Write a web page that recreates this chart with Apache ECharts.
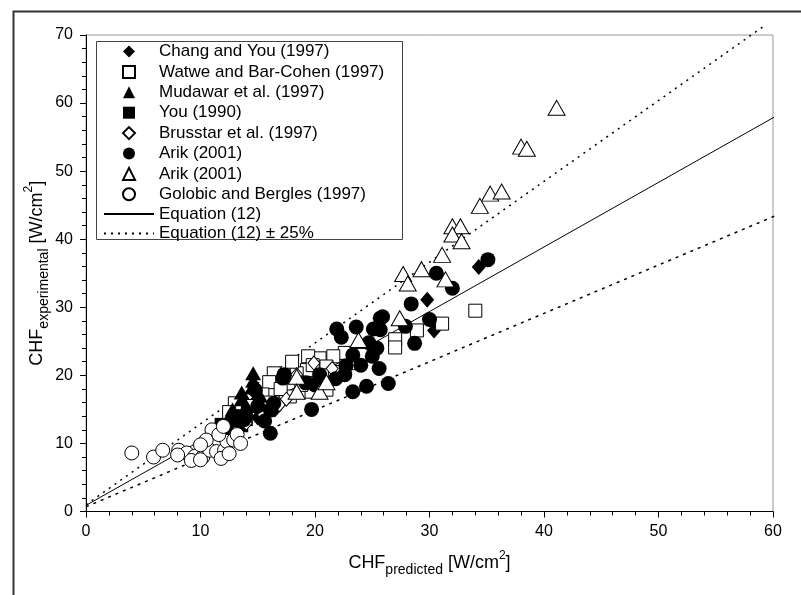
<!DOCTYPE html>
<html>
<head>
<meta charset="utf-8">
<script src="https://cdn.jsdelivr.net/npm/echarts@6/dist/echarts.min.js"></script>
<style>html,body{margin:0;padding:0;background:#fff;}#c{width:801px;height:595px;}</style>
</head>
<body>
<div id="c"></div>
<script>
// ---- data ----
var xTicks = [0, 10, 20, 30, 40, 50, 60];
var yTicks = [0, 10, 20, 30, 40, 50, 60, 70];

var changYou = [[34.3,35.9],[29.8,31.1],[30.4,26.6],[14.0,14.5],[15.0,13.8],[13.2,12.8],[16.5,15.0],[14.8,16.2],[12.5,12.0]];
var watwe = [[34.0,29.5],[31.1,27.6],[28.9,26.6],[27.0,25.3],[27.0,24.1],[22.6,23.3],[21.6,22.8],[20.4,22.5],[19.4,22.8],[21.0,21.3],[19.3,20.8],[18.4,20.3],[16.4,20.3],[21.6,19.8],[21.0,17.9],[19.7,17.6],[17.8,16.9],[13.0,15.9],[16.0,19.0],[15.4,17.2],[17.0,18.0],[18.8,18.6],[20.2,18.8],[22.3,20.5],[23.5,21.8],[24.0,23.0],[12.5,14.6],[14.2,15.5],[15.8,16.0],[19.8,21.5],[20.6,20.0],[18.0,22.0]];
var mudawar = [[14.6,20.3],[14.6,19.2],[13.6,17.5],[13.6,16.5],[14.5,18.2],[12.8,15.0],[13.2,14.0],[15.2,17.0],[14.0,15.5],[12.2,13.0]];
var you1990 = [[12.2,12.5],[12.8,13.2],[13.4,14.0],[12.0,11.8],[13.0,12.0],[14.0,13.5],[11.8,12.8],[13.6,12.6]];
var brusstar = [[19.9,21.8],[18.4,20.1],[16.9,15.7],[17.5,16.5],[15.5,14.2],[14.0,13.0],[20.5,19.0],[13.0,11.5],[16.0,15.2],[21.5,21.0]];
var arikCircle = [[35.1,37.0],[30.6,35.0],[32.0,32.8],[28.4,30.5],[25.9,28.6],[27.9,27.2],[30.0,28.2],[25.1,26.8],[28.7,24.7],[24.7,24.8],[21.9,26.8],[22.3,25.6],[23.6,27.1],[25.7,26.7],[25.7,28.4],[25.4,24.0],[23.3,23.0],[25.0,22.8],[22.7,21.4],[22.6,20.1],[23.3,17.6],[24.5,18.4],[26.4,18.8],[25.6,21.0],[17.2,19.6],[19.2,18.9],[20.4,20.1],[20.0,18.6],[14.8,17.8],[16.4,15.9],[19.7,15.0],[16.1,11.5],[16.1,14.9],[15.6,13.3],[17.3,20.1],[21.8,19.5],[24.0,21.5],[13.8,13.5],[15.0,15.5]];
var arikTri = [[41.1,59.3],[38.0,53.6],[38.5,53.3],[35.3,46.7],[36.3,47.0],[34.4,44.9],[32.0,41.9],[32.7,41.9],[32.0,40.7],[32.8,39.7],[31.1,37.7],[27.7,34.9],[29.3,35.6],[28.1,33.5],[31.4,34.1],[27.4,28.4],[23.8,25.2],[18.4,19.8],[20.4,17.6],[18.4,17.6],[21.0,19.0]];
var golobic = [[4.0,8.6],[5.9,8.0],[6.7,9.0],[8.1,9.0],[8.8,8.6],[9.5,8.1],[10.2,8.0],[10.8,9.0],[11.4,8.8],[12.1,9.0],[12.3,10.3],[12.9,10.5],[13.2,11.3],[11.0,12.0],[10.5,10.5],[10.0,9.8],[11.6,11.3],[9.2,7.5],[10.0,7.6],[11.8,7.8],[12.5,8.5],[8.0,8.3],[13.5,10.0],[12.0,12.5]];
var eqLine = [[0,0.9],[60.7,58.5]];
var eqUpper = [[0,1.0],[59.2,71.3]];
var eqLower = [[0,0.7],[60.7,43.8]];

var markerNames = ['Chang and You (1997)', 'Watwe and Bar-Cohen (1997)', 'Mudawar et al. (1997)', 'You (1990)',
  'Brusstar et al. (1997)', 'Arik (2001)', 'Arik (2001) ', 'Golobic and Bergles (1997)'];
var lineNames = ['Equation (12)', 'Equation (12) \u00b1 25%'];

var FONT = '"Liberation Sans", Arial, sans-serif';
var chart = echarts.init(document.getElementById('c'), null, {renderer: 'canvas'});

function filled(name, sym, size, data) {
  return {name: name, type: 'scatter', symbol: sym, symbolSize: size, data: data,
    itemStyle: {color: '#000', borderColor: '#000', borderWidth: 0, opacity: 1}, z: 3};
}
function open(name, sym, size, data) {
  return {name: name, type: 'scatter', symbol: sym, symbolSize: size, data: data,
    itemStyle: {color: '#fff', borderColor: '#000', borderWidth: 1, opacity: 1}, z: 3};
}
function line(name, data, type) {
  return {name: name, type: 'line', data: data, symbol: 'none', showSymbol: false,
    clip: false, silent: true, z: 2,
    itemStyle: {color: 'rgba(0,0,0,0)', borderWidth: 0},
    lineStyle: {color: '#000', width: type === 'solid' ? 1 : 1.5, type: type}};
}

var nameRich = {
  m: {fontSize: 18, fontFamily: FONT, color: '#000', lineHeight: 28, verticalAlign: 'middle'},
  s: {fontSize: 14, fontFamily: FONT, color: '#000', lineHeight: 14, verticalAlign: 'bottom'},
  p: {fontSize: 12, fontFamily: FONT, color: '#000', lineHeight: 12, verticalAlign: 'top'}
};
var legendText = {fontSize: 17, fontFamily: FONT, color: '#000'};

var option = {
  animation: false,
  backgroundColor: '#fff',
  graphic: [
    {type: 'rect', left: 11, top: 9, shape: {x: 0, y: 0, width: 820, height: 620},
      style: {fill: 'none', stroke: '#333', lineWidth: 2}, silent: true, z: -1},
    {type: 'rect', shape: {x: 96.5, y: 41.5, width: 306, height: 198},
      style: {fill: '#fff', stroke: '#444', lineWidth: 1}, silent: true, z: 5}
  ],
  grid: {left: 86, top: 35, right: 28, bottom: 83.5, show: true, borderColor: '#999', borderWidth: 1, backgroundColor: 'transparent'},
  legend: [{
    orient: 'vertical', left: 122, top: 43, z: 6,
    padding: 0, itemGap: 3.4, itemWidth: 12, itemHeight: 12,
    textStyle: Object.assign({padding: [0, 0, 0, 19]}, legendText),
    selectedMode: false,
    data: markerNames
  }, {
    orient: 'vertical', left: 103, top: 205.5, z: 6,
    padding: 0, itemGap: 2.5, itemWidth: 50, itemHeight: 12,
    textStyle: legendText,
    selectedMode: false,
    data: lineNames
  }],
  xAxis: {
    type: 'value', min: 0, max: 60, interval: 10,
    axisLine: {lineStyle: {color: '#000', width: 1}},
    axisTick: {inside: false, length: 6, lineStyle: {color: '#000'}},
    minorTick: {show: true, splitNumber: 5, length: 4, lineStyle: {color: '#000'}},
    splitLine: {show: false},
    axisLabel: {fontSize: 16, fontFamily: FONT, color: '#000', margin: 12,
      formatter: function (v) { return xTicks.indexOf(v) >= 0 ? String(v) : ''; }},
    name: '{m|CHF}{s|predicted}{m| [W/cm}{p|2}{m|]}', nameLocation: 'middle', nameGap: 38,
    nameMoveOverlap: false,
    nameTextStyle: {rich: nameRich}
  },
  yAxis: {
    type: 'value', min: 0, max: 70, interval: 10,
    axisLine: {lineStyle: {color: '#000', width: 1}},
    axisTick: {inside: false, length: 6, lineStyle: {color: '#000'}},
    minorTick: {show: true, splitNumber: 5, length: 4, lineStyle: {color: '#000'}},
    splitLine: {show: false},
    axisLabel: {fontSize: 16, fontFamily: FONT, color: '#000', margin: 13,
      formatter: function (v) { return yTicks.indexOf(v) >= 0 ? String(v) : ''; }},
    name: '{m|CHF}{s|experimental}{m| [W/cm}{p|2}{m|]}', nameLocation: 'middle', nameGap: 35, nameRotate: 90,
    nameMoveOverlap: false,
    nameTextStyle: {rich: nameRich}
  },
  series: [
    line('Equation (12)', eqLine, 'solid'),
    line('Equation (12) \u00b1 25%', eqUpper, [2, 5]),
    line('Equation (12) \u00b1 25%', eqLower, [3, 5]),
    filled('Chang and You (1997)', 'diamond', [14, 16], changYou),
    open('Watwe and Bar-Cohen (1997)', 'rect', 13, watwe),
    filled('Mudawar et al. (1997)', 'triangle', [16, 14], mudawar),
    filled('You (1990)', 'rect', 13, you1990),
    open('Brusstar et al. (1997)', 'diamond', [12, 14], brusstar),
    filled('Arik (2001)', 'circle', 15, arikCircle),
    open('Arik (2001) ', 'triangle', [17, 15], arikTri),
    open('Golobic and Bergles (1997)', 'circle', 14, golobic)
  ]
};
chart.setOption(option);
</script>
</body>
</html>
